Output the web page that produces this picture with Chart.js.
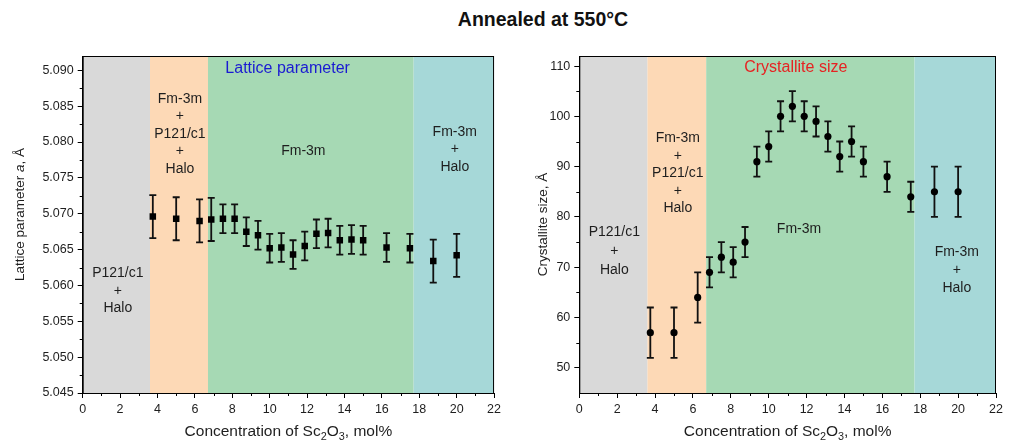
<!DOCTYPE html>
<html>
<head>
<meta charset="utf-8">
<script src="https://cdn.jsdelivr.net/npm/chart.js@4/dist/chart.umd.min.js"></script>
<style>
  body { margin: 0; background: #fff; width: 1011px; height: 442px; position: relative; overflow: hidden; }
  #title { position: absolute; top: 8px; left: 543px; transform: translateX(-50%); white-space: nowrap;
           font: bold 19.5px "Liberation Sans", Arial, sans-serif; color: #111; }
  #left { position: absolute; left: 0; top: 0; }
  #right { position: absolute; left: 505px; top: 0; }
</style>
</head>
<body>
<div id="title">Annealed at 550°C</div>
<canvas id="left" width="505" height="442"></canvas>
<canvas id="right" width="506" height="442"></canvas>
<script>
// Sc2O3 concentration, mol%
var conc = [3.75, 5, 6.25, 6.875, 7.5, 8.125, 8.75, 9.375, 10, 10.625, 11.25, 11.875,
            12.5, 13.125, 13.75, 14.375, 15, 16.25, 17.5, 18.75, 20];
// lattice parameter a, A
var lattice = [5.0696, 5.0693, 5.0690, 5.0692, 5.0693, 5.0693, 5.0675, 5.0670, 5.0652, 5.0653, 5.0643, 5.0655,
               5.0672, 5.0673, 5.0663, 5.0664, 5.0663, 5.0653, 5.0652, 5.0634, 5.0642];
var latticeErr = [0.003, 0.003, 0.003, 0.003, 0.002, 0.002, 0.002, 0.002, 0.002, 0.002, 0.002, 0.002,
                  0.002, 0.002, 0.002, 0.002, 0.002, 0.002, 0.002, 0.003, 0.003];
// crystallite size, A
var crystSize = [57, 57, 64, 69, 72, 71, 75, 91, 94, 100, 102, 100, 99, 96, 92, 95, 91, 88, 84, 85, 85];
var crystErr = [5, 5, 5, 3, 3, 3, 3, 3, 3, 3, 3, 3, 3, 3, 3, 3, 3, 3, 3, 5, 5];

// phase regions
var phaseEdges = [0, 3.6, 6.7, 17.7, 22];
var phaseColors = ['#d9d9d9', '#fdd9b6', '#a6d9b4', '#a6d8d8'];

// tick labels
var xTicks = [0, 2, 4, 6, 8, 10, 12, 14, 16, 18, 20, 22];
var latticeTicks = [5.045, 5.050, 5.055, 5.060, 5.065, 5.070, 5.075, 5.080, 5.085, 5.090];
var sizeTicks = [50, 60, 70, 80, 90, 100, 110];

var FONT = '"Liberation Sans", Arial, sans-serif';
var TXT = '#1e1e1e';

function mids(arr) {
  var out = [];
  for (var i = 0; i < arr.length - 1; i++) out.push((arr[i] + arr[i + 1]) / 2);
  return out;
}

// draws text made of pieces (italic / subscript) centred on cx, cy
function richText(ctx, segs, cx, cy, size, rot) {
  ctx.save();
  ctx.translate(cx, cy);
  ctx.rotate(rot);
  ctx.textBaseline = 'middle';
  ctx.textAlign = 'left';
  ctx.fillStyle = TXT;
  var total = 0;
  segs.forEach(function (s) {
    var sz = s.sub ? size * 0.7 : size;
    ctx.font = (s.it ? 'italic ' : '') + sz + 'px ' + FONT;
    s.w = ctx.measureText(s.t).width;
    total += s.w;
  });
  var x = -total / 2;
  segs.forEach(function (s) {
    var sz = s.sub ? size * 0.7 : size;
    ctx.font = (s.it ? 'italic ' : '') + sz + 'px ' + FONT;
    ctx.fillText(s.t, x, s.sub ? size * 0.3 : 0);
    x += s.w;
  });
  ctx.restore();
}

var decor = {
  id: 'decor',
  beforeDraw: function (chart, args, o) {
    var ctx = chart.ctx, a = chart.chartArea, x = chart.scales.x;
    ctx.save();
    for (var i = 0; i < phaseColors.length; i++) {
      var x0 = x.getPixelForValue(phaseEdges[i]), x1 = x.getPixelForValue(phaseEdges[i + 1]);
      ctx.fillStyle = phaseColors[i];
      ctx.fillRect(x0, a.top, x1 - x0, a.bottom - a.top);
    }
    ctx.restore();
  },
  beforeDatasetsDraw: function (chart, args, o) {
    var ctx = chart.ctx, y = chart.scales.y;
    var meta = chart.getDatasetMeta(0);
    var vals = chart.data.datasets[0].data;
    ctx.save();
    ctx.strokeStyle = '#111';
    ctx.lineWidth = 1.8;
    meta.data.forEach(function (pt, i) {
      var v = vals[i].y, e = o.err[i];
      var t = y.getPixelForValue(v + e), b = y.getPixelForValue(v - e);
      ctx.beginPath();
      ctx.moveTo(pt.x, t); ctx.lineTo(pt.x, b);
      ctx.moveTo(pt.x - 3.5, t); ctx.lineTo(pt.x + 3.5, t);
      ctx.moveTo(pt.x - 3.5, b); ctx.lineTo(pt.x + 3.5, b);
      ctx.stroke();
    });
    ctx.restore();
  },
  afterDraw: function (chart, args, o) {
    var ctx = chart.ctx, a = chart.chartArea, x = chart.scales.x, y = chart.scales.y;
    ctx.save();
    // frame
    ctx.strokeStyle = '#000';
    ctx.lineWidth = 1;
    ctx.strokeRect(a.left + 0.5, a.top + 0.5, a.width - 1, a.height);
    // minor ticks
    ctx.beginPath();
    mids(xTicks).forEach(function (v) {
      var px = Math.round(x.getPixelForValue(v)) + 0.5;
      ctx.moveTo(px, a.bottom); ctx.lineTo(px, a.bottom + 3);
    });
    o.minorY.forEach(function (v) {
      var py = Math.round(y.getPixelForValue(v)) + 0.5;
      ctx.moveTo(a.left, py); ctx.lineTo(a.left - 3, py);
    });
    ctx.stroke();
    // phase notes
    ctx.textAlign = 'center';
    ctx.textBaseline = 'middle';
    o.notes.forEach(function (n) {
      ctx.font = n.size + 'px ' + FONT;
      ctx.fillStyle = n.color || TXT;
      var px = x.getPixelForValue(n.x), py = y.getPixelForValue(n.y);
      n.lines.forEach(function (s, k) { ctx.fillText(s, px, py + k * (n.lh || 0)); });
    });
    ctx.restore();
    // axis titles
    richText(ctx, o.xTitle, (a.left + a.right) / 2, 432, 15.5, 0);
    richText(ctx, o.yTitle, o.yTitleX, (a.top + a.bottom) / 2 + o.yShift, 13.5, -Math.PI / 2);
  }
};

function axisOpts(extra) {
  var base = {
    grid: { drawOnChartArea: false, drawTicks: true, tickLength: 5, color: '#000', tickWidth: 1 },
    border: { display: true, color: '#000', width: 1 },
    ticks: { color: TXT, font: { family: FONT, size: 12.5 }, padding: 4 }
  };
  return Object.assign(base, extra);
}

function makeChart(id, values, err, yTicks, yMin, yMax, digits, pad, yWidth, style, radius, notes, yTitle, yTitleX, yShift) {
  var pts = conc.map(function (c, i) { return { x: c, y: values[i] }; });
  return new Chart(document.getElementById(id), {
    type: 'scatter',
    data: {
      datasets: [{
        data: pts,
        pointStyle: style,
        pointRadius: radius,
        pointHoverRadius: radius,
        backgroundColor: '#000',
        borderColor: '#000',
        borderWidth: 0,
        showLine: false
      }]
    },
    options: {
      responsive: false,
      animation: false,
      events: [],
      layout: { padding: { left: pad[0], right: pad[1], top: 56, bottom: 0 } },
      plugins: {
        legend: { display: false },
        tooltip: { enabled: false },
        decor: {
          err: err,
          minorY: mids(yTicks),
          notes: notes,
          xTitle: [{ t: 'Concentration of Sc' }, { t: '2', sub: true }, { t: 'O' }, { t: '3', sub: true }, { t: ', mol%' }],
          yTitle: yTitle,
          yTitleX: yTitleX,
          yShift: yShift
        }
      },
      scales: {
        x: axisOpts({
          type: 'linear', min: 0, max: 22,
          afterBuildTicks: function (s) { s.ticks = xTicks.map(function (v) { return { value: v }; }); },
          afterFit: function (s) { s.height = 49; }
        }),
        y: axisOpts({
          type: 'linear', min: yMin, max: yMax,
          afterBuildTicks: function (s) { s.ticks = yTicks.map(function (v) { return { value: v }; }); },
          afterFit: function (s) { s.width = yWidth; },
          ticks: { color: TXT, font: { family: FONT, size: 12.5 }, padding: 4,
                   callback: function (v) { return v.toFixed(digits); } }
        })
      }
    },
    plugins: [decor]
  });
}

makeChart('left', lattice, latticeErr, latticeTicks, 5.045, 5.092, 3, [8, 6], 74.7, 'rect', 4.6, [
  { lines: ['Lattice parameter'], x: 10.96, y: 5.0903, size: 16, color: '#1a1ad2' },
  { lines: ['P121/c1', '+', 'Halo'], x: 1.88, y: 5.0617, lh: 17.5, size: 14 },
  { lines: ['Fm-3m', '+', 'P121/c1', '+', 'Halo'], x: 5.2, y: 5.0860, lh: 17.5, size: 14 },
  { lines: ['Fm-3m'], x: 11.8, y: 5.0788, size: 14 },
  { lines: ['Fm-3m', '+', 'Halo'], x: 19.9, y: 5.0814, lh: 17.5, size: 14 }
], [{ t: 'Lattice parameter ' }, { t: 'a', it: true }, { t: ', Å' }], 20, -10);

makeChart('right', crystSize, crystErr, sizeTicks, 45, 112, 0, [36, 15], 38.3, 'circle', 3.6, [
  { lines: ['Crystallite size'], x: 11.43, y: 109.6, size: 16, color: '#e62222' },
  { lines: ['P121/c1', '+', 'Halo'], x: 1.85, y: 76.9, lh: 19, size: 14 },
  { lines: ['Fm-3m', '+', 'P121/c1', '+', 'Halo'], x: 5.2, y: 95.6, lh: 17.5, size: 14 },
  { lines: ['Fm-3m'], x: 11.6, y: 77.5, size: 14 },
  { lines: ['Fm-3m', '+', 'Halo'], x: 19.93, y: 73.0, lh: 17.8, size: 14 }
], [{ t: 'Crystallite size, Å' }], 38, 0);
</script>
</body>
</html>
